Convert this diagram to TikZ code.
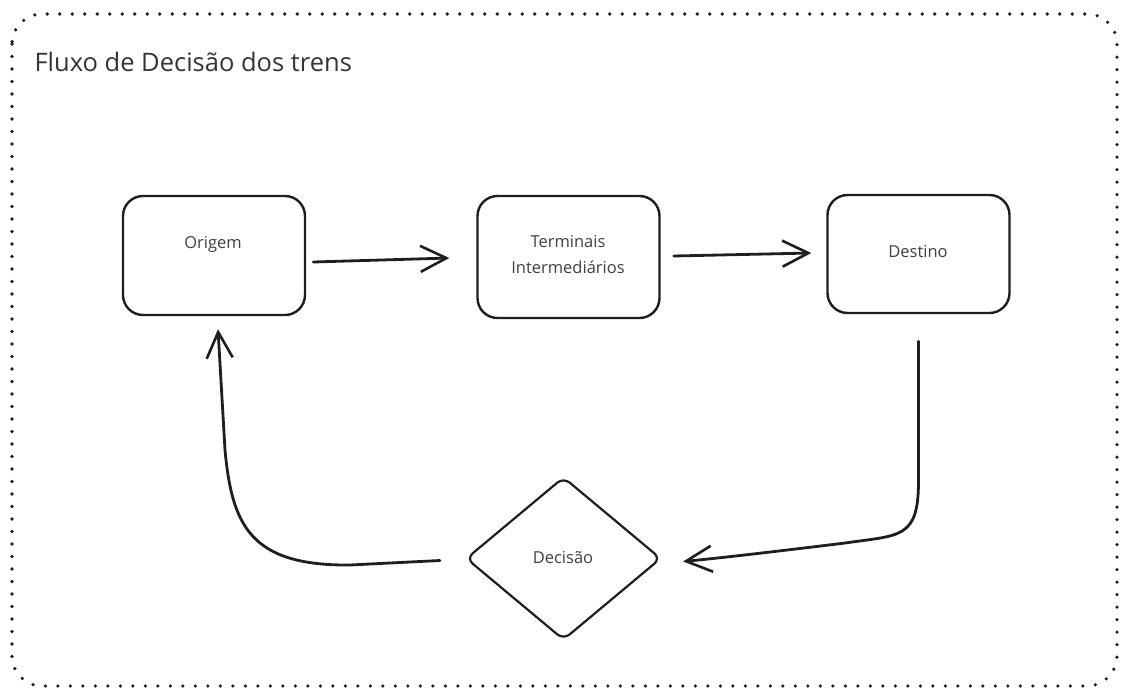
\documentclass[tikz,border=0pt]{standalone}
\usepackage{fontspec}
\setmainfont{Open Sans}
\usetikzlibrary{arrows.meta,shapes.geometric}
\definecolor{ink}{HTML}{1E1E1E}
\begin{document}
\begin{tikzpicture}[x=1pt,y=-1pt,
  box/.style={draw=ink,line width=2.4pt,rounded corners=20pt,minimum width=182pt,minimum height=119pt,inner sep=0pt},
  dec/.style={draw=ink,line width=2.2pt,diamond,rounded corners=8pt,minimum width=195pt,minimum height=163pt,aspect=1.2,inner sep=0pt},
  lbl/.style={text=ink!85,font=\fontsize{16.5}{26}\selectfont,align=center},
  arr/.style={draw=ink,line width=2.8pt,line cap=round,-{Straight Barb[length=26pt,width=26pt,line width=2.6pt]}},
  frame/.style={draw=ink,line width=3.6pt,line cap=round,dash pattern=on 0pt off 12.5pt,rounded corners=30pt}
]
\useasboundingbox (0,0) rectangle (1121,691);
\draw[frame] (12,14) rectangle (1117,686);
\node[text=ink!90,font=\fontsize{25.5}{30}\selectfont,anchor=west] (title) at (31,62) {Fluxo de Decisão dos trens};

\node[box] (origem) at (214,255.5) {};
\node[box,minimum height=122pt] (term) at (568.5,257) {};
\node[box,minimum height=118pt] (dest) at (918.5,254) {};
\node[dec] (decisao) at (563.5,558.5) {};

\node[lbl] (torigem) at (213,244) {Origem};
\node[lbl] (tterm) at (568,255) {Terminais\\Intermediários};
\node[lbl] (tdest) at (918,252) {Destino};
\node[lbl] (tdec) at (563,558) {Decisão};

\draw[arr] ([xshift=7pt,yshift=-6.5pt]origem.east) -- ([xshift=-27pt,yshift=-1pt]term.west);
\draw[arr] ([xshift=13pt,yshift=1pt]term.east) -- ([xshift=-15pt,yshift=1pt]dest.west);
\draw[arr] ([xshift=0pt,yshift=-27pt]dest.south) -- ++(0,140)
   .. controls +(0,58) and (900,535) .. (845,543)
   .. controls (780,551) and (720,558) .. ([xshift=21pt,yshift=-3pt]decisao.east);
\draw[arr] ([xshift=-25pt,yshift=-2pt]decisao.west) -- (350,565)
   .. controls (250,566) and (232,525) .. (225,450)
   -- ([xshift=4pt,yshift=-13pt]origem.south);
\end{tikzpicture}
\end{document}
